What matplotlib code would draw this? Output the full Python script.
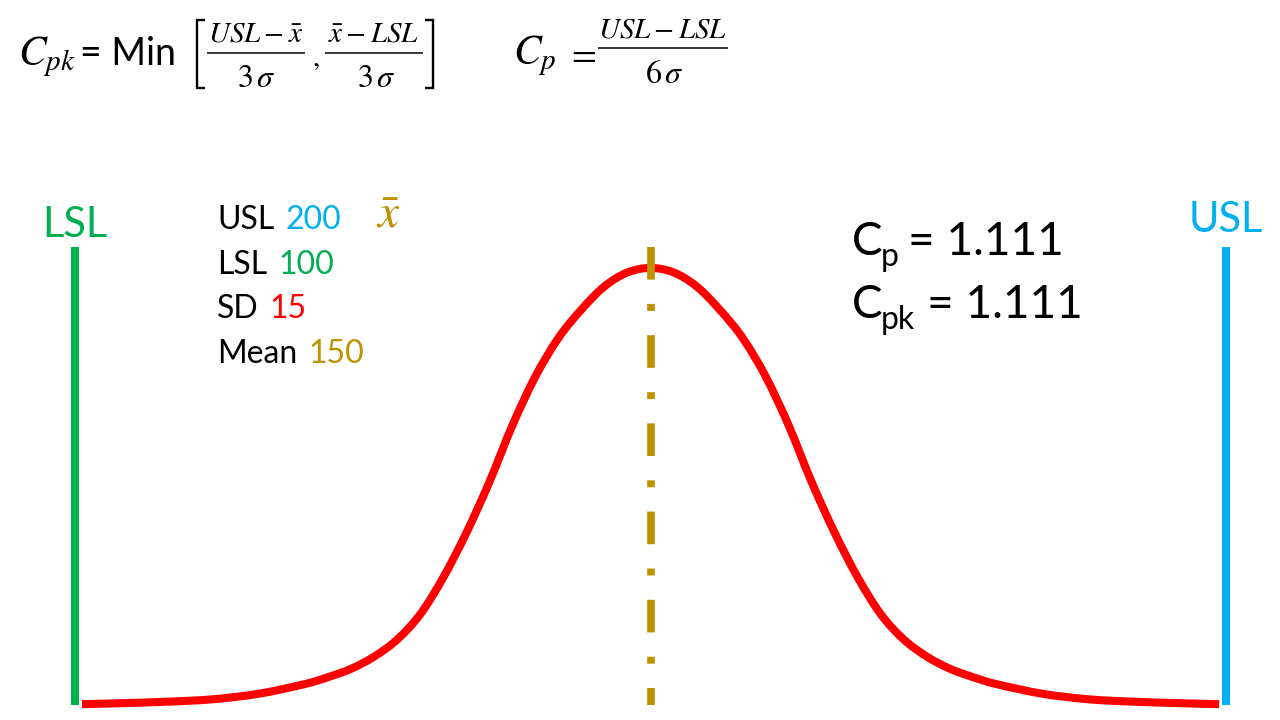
# Curva normal con límites de especificación LSL / USL y fórmulas de Cp y Cpk
import matplotlib.pyplot as plt
from matplotlib.path import Path
from matplotlib.patches import PathPatch
from matplotlib.lines import Line2D

plt.rcParams['font.family'] = ['Lato', 'DejaVu Sans']
plt.rcParams['mathtext.fontset'] = 'stix'
plt.rcParams['lines.scale_dashes'] = False

usl = 200
lsl = 100
sd = 15
media = 150
cp = 1.111
cpk = 1.111

# curva (x en unidades, y densidad)
curva_x = [100.6, 104, 108, 112, 116, 120, 122, 124, 126, 128, 130, 132, 134, 136,
           138, 140, 142, 144, 146, 148, 150, 152, 154, 156, 158, 160, 162, 164,
           166, 168, 170, 172, 174, 176, 178, 180, 184, 188, 192, 196, 199.4]
curva_y = [0.00005, 0.00011, 0.00020, 0.00035, 0.00069, 0.00128, 0.00170, 0.00221,
           0.00295, 0.00399, 0.00553, 0.00777, 0.01048, 0.01357, 0.01702, 0.02000,
           0.02234, 0.02407, 0.02548, 0.02633, 0.02660, 0.02633, 0.02548, 0.02407,
           0.02234, 0.02000, 0.01702, 0.01357, 0.01048, 0.00777, 0.00553, 0.00399,
           0.00295, 0.00221, 0.00170, 0.00128, 0.00069, 0.00035, 0.00020, 0.00011,
           0.00005]

etiquetas = ['USL', 'LSL', 'SD', 'Mean']
valores = [usl, lsl, sd, media]

verde = '#00B050'
azul = '#00B0F0'
rojo = '#FF0000'
oro = '#BF9000'
colores = [azul, verde, rojo, oro]


def camino_suave(xs, ys):
    # línea suavizada (como en Excel) que pasa por los puntos
    pts = list(zip(xs, ys))
    n = len(pts)
    verts = [pts[0]]
    codes = [Path.MOVETO]
    for i in range(n - 1):
        p0 = pts[max(i - 1, 0)]
        p1 = pts[i]
        p2 = pts[i + 1]
        p3 = pts[min(i + 2, n - 1)]
        c1 = (p1[0] + (p2[0] - p0[0]) / 6, p1[1] + (p2[1] - p0[1]) / 6)
        c2 = (p2[0] - (p3[0] - p1[0]) / 6, p2[1] - (p3[1] - p1[1]) / 6)
        verts += [c1, c2, p2]
        codes += [Path.CURVE4] * 3
    return Path(verts, codes)


fig = plt.figure(figsize=(12.8, 7.2), dpi=100)
ax = fig.add_axes([0, 0, 1, 1])
ax.set_xlim(93.48, 204.69)
ax.set_ylim(-0.000913, 0.04291)
ax.axis('off')

alto = 0.0279
ax.plot([lsl, lsl], [0, alto], color=verde, lw=5.8, solid_capstyle='butt')
ax.plot([usl, usl], [0, alto], color=azul, lw=5.8, solid_capstyle='butt')
ax.add_patch(PathPatch(camino_suave(curva_x, curva_y), fill=False, edgecolor=rojo,
                       lw=5.8, capstyle='butt', joinstyle='round'))
ax.plot([media, media], [alto, 0], color=oro, lw=5.5, dashes=(23.5, 17.5, 5, 17.5), zorder=3)

ax.text(lsl, 0.0285, 'LSL', color=verde, fontsize=30, ha='center', va='baseline')
ax.text(usl, 0.0288, 'USL', color=azul, fontsize=30, ha='center', va='baseline')


def px(x, y):
    return x / 1280, 1 - y / 720


def trazo(xs, ys, lw):
    fig.add_artist(Line2D([x / 1280 for x in xs], [1 - y / 720 for y in ys],
                          transform=fig.transFigure, color='black', lw=lw,
                          solid_joinstyle='miter', solid_capstyle='butt'))


# fórmula de Cpk
fig.text(*px(18, 65), r'$C_{pk}$', fontsize=30, va='baseline')
fig.text(*px(80, 65), '= Min', fontsize=27, va='baseline')
trazo([205, 197, 197, 205], [20, 20, 88, 88], 1.7)
fig.text(*px(256, 42), r'$USL-\bar{x}$', fontsize=21, ha='center', va='baseline')
trazo([207, 305], [53, 53], 1.1)
fig.text(*px(256, 87), r'$3\,\sigma$', fontsize=23, ha='center', va='baseline')
fig.text(*px(312, 66), r'$,$', fontsize=21, va='baseline')
fig.text(*px(374, 42), r'$\bar{x}-LSL$', fontsize=21, ha='center', va='baseline')
trazo([325, 423], [53, 53], 1.1)
fig.text(*px(376, 87), r'$3\,\sigma$', fontsize=23, ha='center', va='baseline')
trazo([425, 433, 433, 425], [20, 20, 88, 88], 1.7)

# fórmula de Cp
fig.text(*px(513, 64), r'$C_p$', fontsize=30, va='baseline')
fig.text(*px(566, 64), r'$=$', fontsize=26, va='baseline')
fig.text(*px(663, 38), r'$USL-LSL$', fontsize=21, ha='center', va='baseline')
trazo([598, 728], [48, 48], 1.1)
fig.text(*px(664, 83), r'$6\,\sigma$', fontsize=23, ha='center', va='baseline')

# datos
rend = fig.canvas.get_renderer()
bases = [229, 274, 318, 363]
for etiqueta, valor, color, yb in zip(etiquetas, valores, colores, bases):
    t = fig.text(*px(217, yb), etiqueta, fontsize=23, va='baseline')
    x1 = t.get_window_extent(rend).x1
    fig.text((x1 + 11) / 1280, 1 - yb / 720, str(valor), color=color, fontsize=23,
             va='baseline')
fig.text(*px(376, 228), r'$\bar{x}$', color=oro, fontsize=34, va='baseline')

# resultados
fig.text(*px(852, 255), 'C', fontsize=33, va='baseline')
fig.text(*px(881, 266), 'p', fontsize=23, va='baseline')
fig.text(*px(908, 255), '= ' + f'{cp:.3f}', fontsize=33, va='baseline')
fig.text(*px(852, 318), 'C', fontsize=33, va='baseline')
fig.text(*px(881, 329), 'pk', fontsize=23, va='baseline')
fig.text(*px(927, 318), '= ' + f'{cpk:.3f}', fontsize=33, va='baseline')

plt.savefig('out.png', dpi=100)
